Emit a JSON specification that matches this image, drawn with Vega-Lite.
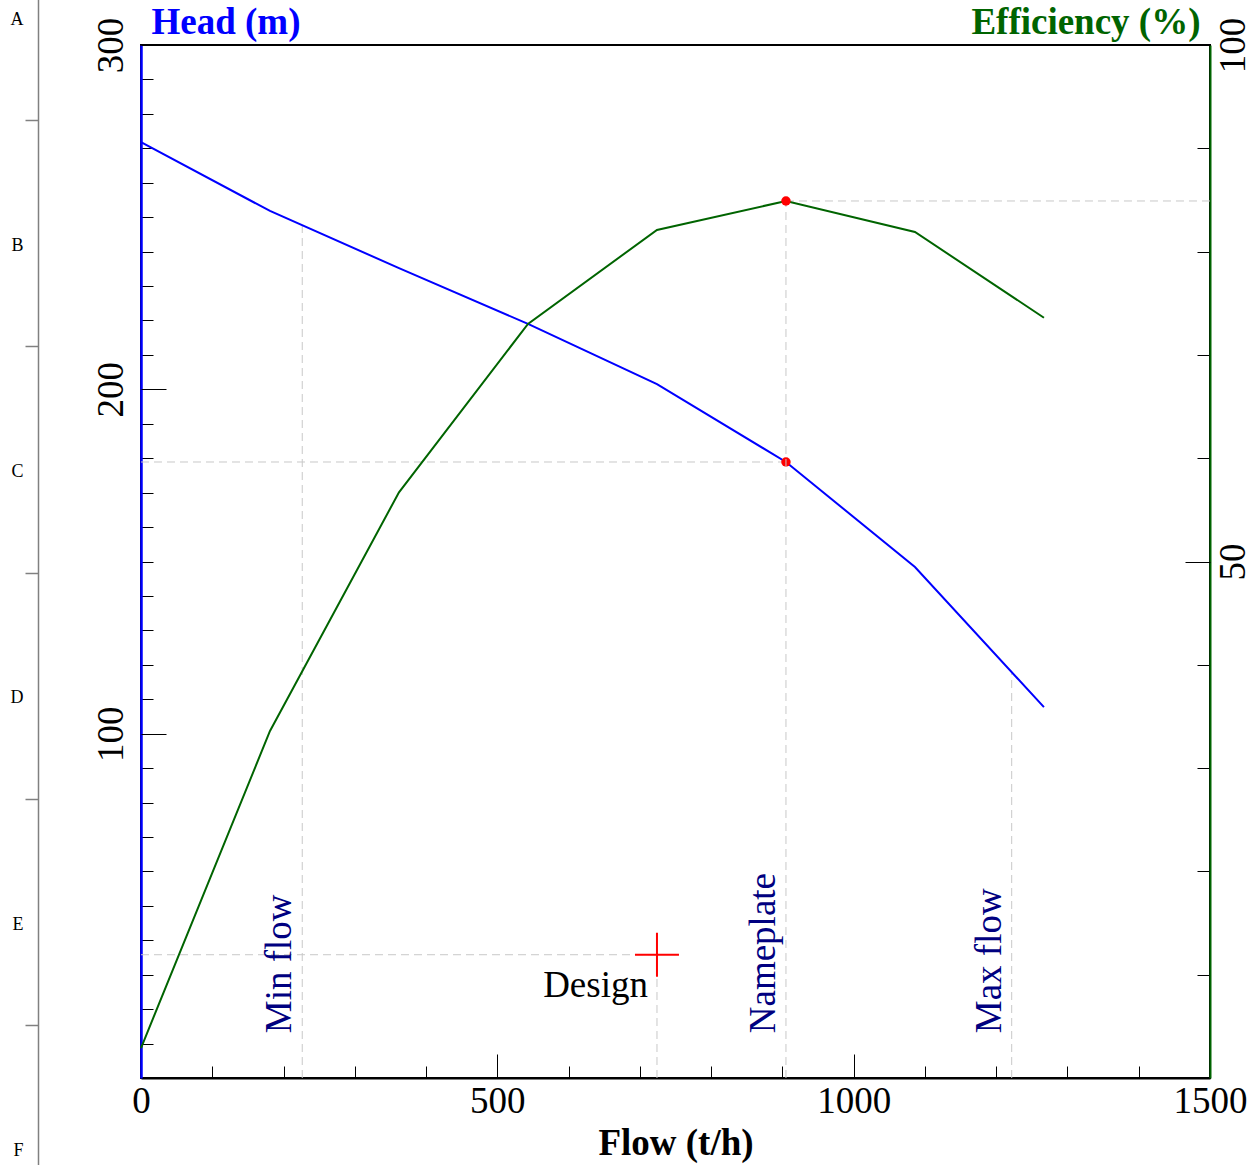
{
  "$schema": "https://vega.github.io/schema/vega-lite/v6.json",
  "width": 1069,
  "height": 1033,
  "autosize": {"type": "none"},
  "padding": {"left": 141, "top": 45, "right": 42, "bottom": 87},
  "background": "white",
  "config": {
    "font": "Liberation Serif",
    "view": {"stroke": "black", "strokeWidth": 2},
    "axis": {"grid": false, "labelFont": "Liberation Serif", "titleFont": "Liberation Serif"},
    "text": {"font": "Liberation Serif"}
  },
  "datasets": {
    "curve": [
      {"flow": 0, "head": 271.8, "eff": 2.9},
      {"flow": 181, "head": 251.8, "eff": 33.6},
      {"flow": 362, "head": 235.2, "eff": 56.7},
      {"flow": 543, "head": 219.0, "eff": 73.0},
      {"flow": 724, "head": 201.5, "eff": 82.1},
      {"flow": 905, "head": 178.9, "eff": 84.9},
      {"flow": 1086, "head": 148.4, "eff": 81.9},
      {"flow": 1267, "head": 107.7, "eff": 73.6}
    ],
    "nameplate": [{"flow": 905, "head": 178.9, "eff": 84.9}],
    "design": [{"flow": 724, "head": 35.8, "label": "Design"}],
    "limits": [
      {"label": "Min flow", "flow": 226.25},
      {"label": "Nameplate", "flow": 905},
      {"label": "Max flow", "flow": 1221.75}
    ],
    "headGuides": [
      {"x1": 0, "x2": 905, "y1": 178.9, "y2": 178.9},
      {"x1": 226.25, "x2": 226.25, "y1": 0, "y2": 247.6},
      {"x1": 1221.75, "x2": 1221.75, "y1": 0, "y2": 117.9},
      {"x1": 0, "x2": 724, "y1": 35.8, "y2": 35.8},
      {"x1": 724, "x2": 724, "y1": 0, "y2": 35.8}
    ],
    "effGuides": [
      {"x1": 905, "x2": 905, "y1": 0, "y2": 84.9},
      {"x1": 905, "x2": 1500, "y1": 84.9, "y2": 84.9}
    ],
    "zones": [
      {"zone": "A", "k": 1},
      {"zone": "B", "k": 2},
      {"zone": "C", "k": 3},
      {"zone": "D", "k": 4},
      {"zone": "E", "k": 5},
      {"zone": "F", "k": 6}
    ]
  },
  "layer": [
    {
      "layer": [
        {
          "data": {"name": "headGuides"},
          "mark": {"type": "rule", "color": "#c8c8c8", "strokeWidth": 1, "strokeDash": [8, 5]},
          "encoding": {
            "x": {"field": "x1", "type": "quantitative", "scale": {"domain": [0, 1500], "nice": false},
              "axis": {
                "orient": "bottom",
                "values": [0, 100, 200, 300, 400, 500, 600, 700, 800, 900, 1000, 1100, 1200, 1300, 1400, 1500],
                "tickSize": -12,
                "tickColor": "black",
                "tickWidth": 1,
                "labels": false,
                "domainColor": "black",
                "domainWidth": 2,
                "title": null
              }
            },
            "x2": {"field": "x2"},
            "y": {"field": "y1", "type": "quantitative", "scale": {"domain": [0, 300], "nice": false},
              "axis": {
                "orient": "left",
                "values": [0, 10, 20, 30, 40, 50, 60, 70, 80, 90, 100, 110, 120, 130, 140, 150, 160, 170, 180, 190, 200, 210, 220, 230, 240, 250, 260, 270, 280, 290, 300],
                "tickSize": -12,
                "tickColor": "black",
                "tickWidth": 1,
                "labels": false,
                "domainColor": "#0000ff",
                "domainWidth": 2.5,
                "title": "Head (m)",
                "titleFont": "Liberation Serif",
                "titleColor": "#0000ff",
                "titleFontSize": 37,
                "titleFontWeight": "bold",
                "titleAngle": 0,
                "titleAlign": "left",
                "titleBaseline": "alphabetic",
                "titleX": 10,
                "titleY": -12
              }
            },
            "y2": {"field": "y2"}
          }
        },
        {
          "data": {"name": "curve"},
          "mark": {"type": "line", "color": "#0000ff", "strokeWidth": 2},
          "encoding": {
            "x": {
              "field": "flow", "type": "quantitative",
              "scale": {"domain": [0, 1500], "nice": false},
              "axis": {
                "orient": "bottom",
                "values": [0, 500, 1000, 1500],
                "format": "d",
                "tickSize": -24,
                "tickColor": "black",
                "tickWidth": 1,
                "labelFont": "Liberation Serif",
                "labelFontSize": 37,
                "labelColor": "black",
                "labelPadding": 29,
                "labelAngle": 0,
                "labelFlush": false,
                "labelOverlap": false,
                "labelBaseline": "top",
                "domain": false,
                "title": "Flow (t/h)",
                "titleFont": "Liberation Serif",
                "titleFontSize": 37,
                "titleFontWeight": "bold",
                "titleColor": "black",
                "titleY": 76,
                "titleBaseline": "alphabetic"
              }
            },
            "y": {
              "field": "head", "type": "quantitative",
              "scale": {"domain": [0, 300], "nice": false},
              "axis": {
                "orient": "left",
                "values": [100, 200, 300],
                "format": "d",
                "tickSize": -25,
                "tickColor": "black",
                "tickWidth": 1,
                "labelFont": "Liberation Serif",
                "labelFontSize": 37,
                "labelColor": "black",
                "labelAngle": 270,
                "labelAlign": "center",
                "labelBaseline": "alphabetic",
                "labelPadding": 44,
                "labelOverlap": false,
                "domain": false,
                "title": null
              }
            }
          }
        },
        {
          "data": {"name": "nameplate"},
          "mark": {"type": "circle", "color": "#ff0000", "size": 90, "opacity": 1},
          "encoding": {
            "x": {"field": "flow", "type": "quantitative", "scale": {"domain": [0, 1500], "nice": false}, "axis": null},
            "y": {"field": "head", "type": "quantitative", "scale": {"domain": [0, 300], "nice": false}, "axis": null}
          }
        },
        {
          "data": {"name": "design"},
          "mark": {"type": "point", "shape": "M-1,0L1,0M0,-1L0,1", "size": 1936, "filled": false, "stroke": "#ff0000", "strokeWidth": 2, "opacity": 1},
          "encoding": {
            "x": {"field": "flow", "type": "quantitative", "scale": {"domain": [0, 1500], "nice": false}, "axis": null},
            "y": {"field": "head", "type": "quantitative", "scale": {"domain": [0, 300], "nice": false}, "axis": null}
          }
        },
        {
          "data": {"name": "design"},
          "mark": {"type": "text", "font": "Liberation Serif", "fontSize": 37, "color": "black", "align": "right", "baseline": "alphabetic", "dx": -9, "dy": 42},
          "encoding": {
            "x": {"field": "flow", "type": "quantitative", "scale": {"domain": [0, 1500], "nice": false}, "axis": null},
            "y": {"field": "head", "type": "quantitative", "scale": {"domain": [0, 300], "nice": false}, "axis": null},
            "text": {"field": "label"}
          }
        },
        {
          "data": {"name": "limits"},
          "mark": {"type": "text", "font": "Liberation Serif", "fontSize": 37, "color": "#000080", "angle": 270, "align": "left", "baseline": "alphabetic", "dy": -11},
          "encoding": {
            "x": {"field": "flow", "type": "quantitative", "scale": {"domain": [0, 1500], "nice": false}, "axis": null},
            "y": {"datum": 13, "type": "quantitative", "scale": {"domain": [0, 300], "nice": false}, "axis": null},
            "text": {"field": "label"}
          }
        }
      ],
      "resolve": {"axis": {"x": "independent", "y": "independent"}}
    },
    {
      "layer": [
        {
          "data": {"name": "effGuides"},
          "mark": {"type": "rule", "color": "#c8c8c8", "strokeWidth": 1, "strokeDash": [8, 5]},
          "encoding": {
            "x": {"field": "x1", "type": "quantitative", "scale": {"domain": [0, 1500], "nice": false}, "axis": null},
            "x2": {"field": "x2"},
            "y": {"field": "y1", "type": "quantitative", "scale": {"domain": [0, 100], "nice": false},
              "axis": {
                "orient": "right",
                "values": [0, 10, 20, 30, 40, 50, 60, 70, 80, 90, 100],
                "tickSize": -13,
                "tickColor": "black",
                "tickWidth": 1,
                "labels": false,
                "domainColor": "#006400",
                "domainWidth": 2,
                "title": "Efficiency (%)",
                "titleFont": "Liberation Serif",
                "titleColor": "#006400",
                "titleFontSize": 37,
                "titleFontWeight": "bold",
                "titleAngle": 0,
                "titleAlign": "right",
                "titleBaseline": "alphabetic",
                "titleX": -10,
                "titleY": -12
              }
            },
            "y2": {"field": "y2"}
          }
        },
        {
          "data": {"name": "curve"},
          "mark": {"type": "line", "color": "#006400", "strokeWidth": 2},
          "encoding": {
            "x": {"field": "flow", "type": "quantitative", "scale": {"domain": [0, 1500], "nice": false}, "axis": null},
            "y": {
              "field": "eff", "type": "quantitative",
              "scale": {"domain": [0, 100], "nice": false},
              "axis": {
                "orient": "right",
                "values": [50, 100],
                "format": "d",
                "tickSize": -25,
                "tickColor": "black",
                "tickWidth": 1,
                "labelFont": "Liberation Serif",
                "labelFontSize": 37,
                "labelColor": "black",
                "labelAngle": 270,
                "labelAlign": "center",
                "labelBaseline": "alphabetic",
                "labelPadding": 59,
                "labelOverlap": false,
                "domain": false,
                "title": null
              }
            }
          }
        },
        {
          "data": {"name": "nameplate"},
          "mark": {"type": "circle", "color": "#ff0000", "size": 90, "opacity": 1},
          "encoding": {
            "x": {"field": "flow", "type": "quantitative", "scale": {"domain": [0, 1500], "nice": false}, "axis": null},
            "y": {"field": "eff", "type": "quantitative", "scale": {"domain": [0, 100], "nice": false}, "axis": null}
          }
        }
      ],
      "resolve": {"axis": {"y": "independent"}}
    },
    {
      "data": {"name": "zones"},
      "mark": {"type": "point", "opacity": 0},
      "encoding": {
        "y": {
          "field": "k", "type": "quantitative",
          "scale": {"domain": [0, 6], "range": [-151.3, 1206.5], "nice": false, "zero": false},
          "axis": {
            "orient": "left",
            "offset": 103,
            "values": [1, 2, 3, 4, 5, 6],
            "labelExpr": "['A','B','C','D','E','F'][datum.value - 1]",
            "tickSize": 13,
            "tickColor": "#808080",
            "tickWidth": 1.5,
            "domainColor": "#808080",
            "domainWidth": 1.5,
            "labelFont": "Liberation Serif",
            "labelFontSize": 18,
            "labelColor": "black",
            "labelAngle": 0,
            "labelAlign": "right",
            "labelBaseline": "middle",
            "labelPadding": 2,
            "labelOffset": -101,
            "labelOverlap": false,
            "labelFlush": false,
            "title": null
          }
        }
      }
    }
  ],
  "resolve": {"scale": {"y": "independent"}, "axis": {"y": "independent", "x": "independent"}}
}
